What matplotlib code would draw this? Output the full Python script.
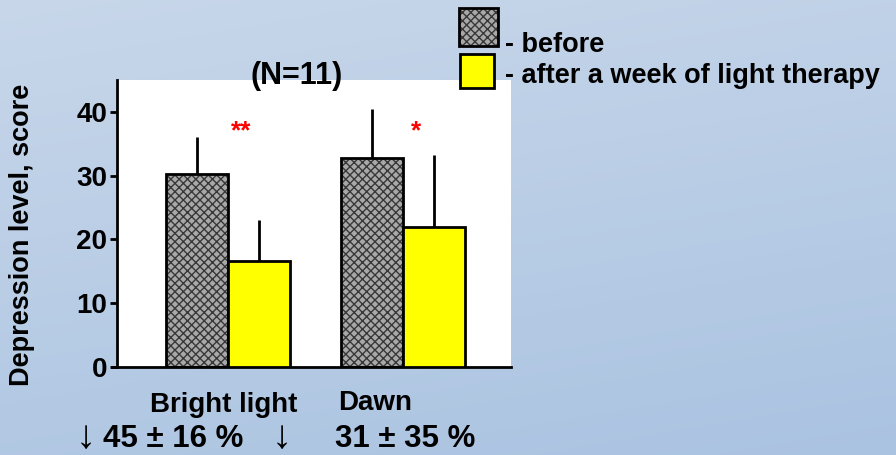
import numpy as np
import matplotlib
matplotlib.use("Agg")
import matplotlib.pyplot as plt
from matplotlib.patches import Rectangle

plt.rcParams['font.family'] = ['Liberation Sans', 'DejaVu Sans']
plt.rcParams['font.weight'] = 'bold'

groups = ["Bright light", "Dawn"]
changes = ["45 \u00b1 16 %", "31 \u00b1 35 %"]
before_mean = [30.3, 32.8]
before_sd = [5.8, 7.7]
after_mean = [16.6, 22.0]
after_sd = [6.4, 11.2]
stars = ["**", "*"]
star_level = 37.0

W, H = 896, 455
fig = plt.figure(figsize=(W / 100, H / 100), dpi=100)


def px(xp, yp):
    return xp / W, 1 - yp / H


# light blue gradient backdrop
bg = fig.add_axes([0, 0, 1, 1], zorder=-10)
gy, gx = np.mgrid[0:1:200j, 0:1:200j]
t = np.clip(0.75 * gy + 0.25 * gx, 0, 1)[..., None]
top = np.array([200, 215, 234]) / 255
bot = np.array([170, 195, 225]) / 255
bg.imshow(top * (1 - t) + bot * t, aspect='auto', extent=[0, 1, 0, 1])
bg.axis('off')

ax = fig.add_axes([0.1306, 0.1934, 0.4397, 0.6308])
ax.set_facecolor('white')

x = np.arange(len(groups))
w = 0.354
hatch_face = '#a8a8a8'
hatch_ink = '#383838'

for i in x:
    xb = i - w / 2
    xa = i + w / 2
    # hatched "before" bar: grey checks then black outline
    ax.bar(xb, before_mean[i], w, color=hatch_face, edgecolor=hatch_ink,
           hatch='xxxx', linewidth=0, zorder=2)
    ax.bar(xb, before_mean[i], w, fill=False, edgecolor='black',
           linewidth=2, zorder=3)
    ax.bar(xa, after_mean[i], w, color='#ffff00', edgecolor='black',
           linewidth=2, zorder=3)
    ax.errorbar(xb, before_mean[i], yerr=[[0], [before_sd[i]]], fmt='none',
                ecolor='black', elinewidth=2, capsize=0, zorder=1)
    ax.errorbar(xa, after_mean[i], yerr=[[0], [after_sd[i]]], fmt='none',
                ecolor='black', elinewidth=2, capsize=0, zorder=1)
    ax.text(i + 0.075, star_level, stars[i], color='red', fontsize=19,
            ha='center', va='center')

ax.set_xlim(-0.634, 1.617)
ax.set_ylim(0, 45)
ax.set_yticks([0, 10, 20, 30, 40])
ax.set_xticks([])
ax.tick_params(axis='y', direction='out', length=5, width=2, labelsize=20, pad=2)
for lab in ax.get_yticklabels():
    lab.set_fontweight('bold')
ax.spines['top'].set_visible(False)
ax.spines['right'].set_visible(False)
ax.spines['left'].set_linewidth(2)
ax.spines['bottom'].set_linewidth(2)
ax.plot([-0.665, -0.634], [0, 0], color='black', lw=2, clip_on=False)

ax.set_ylabel("Depression level, score", fontsize=19.5, fontweight='bold')
ax.yaxis.set_label_coords(-0.208, 0.46)

fig.text(*px(297, 84), "(N=11)", fontsize=22, fontweight='bold',
         ha='center', va='baseline')

# category labels and percentage changes under the axis
fig.text(*px(224, 412), groups[0], fontsize=20, fontweight='bold',
         ha='center', va='baseline')
fig.text(*px(375, 410), groups[1], fontsize=20, fontweight='bold',
         ha='center', va='baseline')
fig.text(*px(103, 447), changes[0], fontsize=22.5, fontweight='bold',
         ha='left', va='baseline')
fig.text(*px(335, 447), changes[1], fontsize=22.5, fontweight='bold',
         ha='left', va='baseline')
for arrow_x in (86, 282):
    fig.text(*px(arrow_x, 448), "\u2193", fontsize=29, fontweight='normal',
             ha='center', va='baseline')

# legend boxes
fig.patches.append(Rectangle(px(459, 46), 39 / W, 38 / H,
                             transform=fig.transFigure, facecolor=hatch_face,
                             edgecolor=hatch_ink, hatch='xxxx', linewidth=0))
fig.patches.append(Rectangle(px(459, 46), 39 / W, 38 / H,
                             transform=fig.transFigure, fill=False,
                             edgecolor='black', linewidth=2))
fig.patches.append(Rectangle(px(460, 88), 34 / W, 34 / H,
                             transform=fig.transFigure, facecolor='#ffff00',
                             edgecolor='black', linewidth=2))
fig.text(*px(505, 52), "- before", fontsize=19.5, fontweight='bold',
         ha='left', va='baseline')
fig.text(*px(505, 83), "- after a week of light therapy", fontsize=19.5,
         fontweight='bold', ha='left', va='baseline')

fig.savefig("out.png", dpi=100)
